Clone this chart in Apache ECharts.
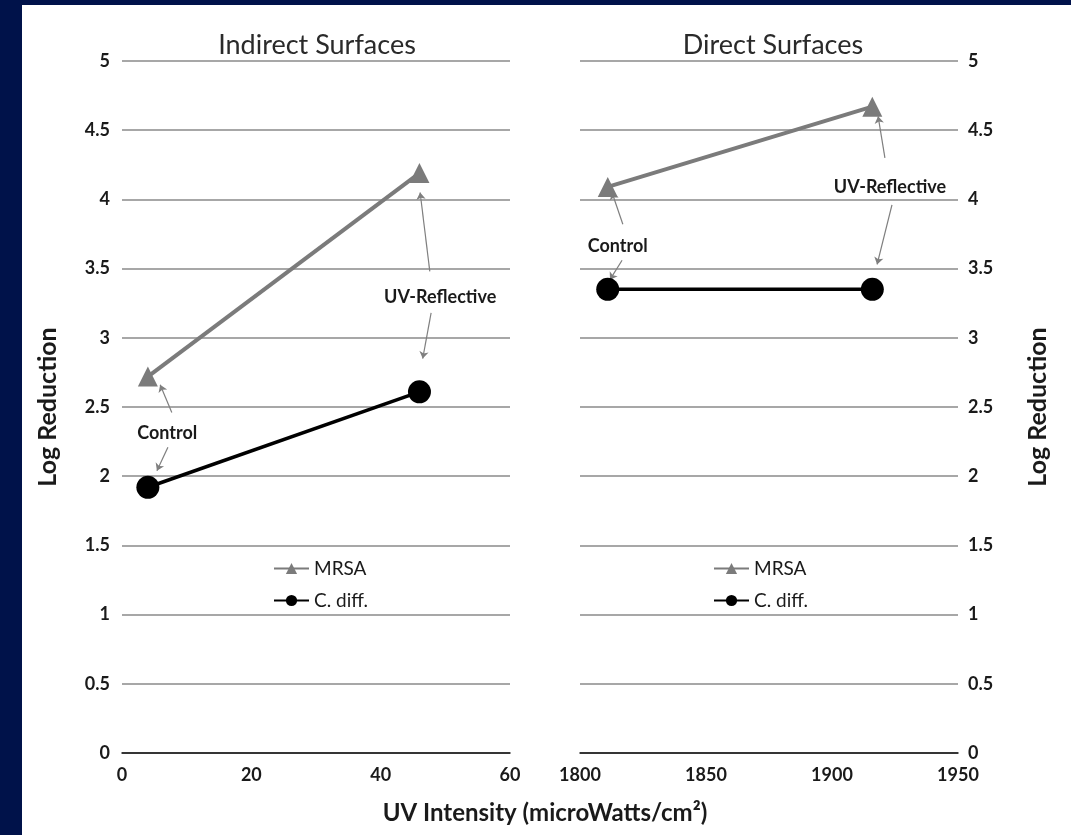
<!DOCTYPE html>
<html>
<head>
<meta charset="utf-8">
<script src="https://cdn.jsdelivr.net/npm/echarts@6/dist/echarts.min.js"></script>
<style>
html,body{margin:0;padding:0;background:#00124a;}
#wrap{position:absolute;left:0;top:0;width:1071px;height:835px;background:#00124a;}
#c{position:absolute;left:22px;top:5px;width:1049px;height:830px;background:#fff;}
</style>
</head>
<body>
<div id="wrap"><div id="c"></div></div>
<script>
// ---- data ----
const seriesNames = ['MRSA', 'C. diff.'];
const panelTitles = ['Indirect Surfaces', 'Direct Surfaces'];
const xTitle = 'UV Intensity (microWatts/cm\u00B2)';
const yTitle = 'Log Reduction';

const indirectX = [4, 46];
const indirectMRSA = [2.72, 4.19];
const indirectCdiff = [1.92, 2.61];

const directX = [1811, 1916];
const directMRSA = [4.09, 4.67];
const directCdiff = [3.35, 3.35];

// annotation labels [x, y, text]
const indirectNotes = [[7.0, 2.31, 'Control'], [49.2, 3.29, 'UV-Reflective']];
const directNotes = [[1815, 3.66, 'Control'], [1923, 4.09, 'UV-Reflective']];
// annotation arrows [[x0,y0],[x1,y1]]
const indirectArrows = [
  [[7.7, 2.46], [5.9, 2.66]],
  [[7.1, 2.21], [5.4, 2.04]],
  [[47.6, 3.48], [46.1, 4.05]],
  [[47.8, 3.18], [46.5, 2.85]]
];
const directArrows = [
  [[1921, 4.30], [1918.3, 4.60]],
  [[1923.8, 3.96], [1917.9, 3.53]],
  [[1817, 3.82], [1812.7, 4.05]],
  [[1816.7, 3.56], [1811.9, 3.42]]
];

// ---- chart ----
const FONT = 'Lato, "Open Sans", sans-serif';
const chart = echarts.init(document.getElementById('c'));
const OX = 22, OY = 5; // container offset
const grids = [
  {left: 122 - OX, top: 61 - OY, width: 388, height: 692},
  {left: 580 - OX, top: 61 - OY, width: 378, height: 692}
];
const axisLabelStyle = {fontFamily: FONT, fontWeight: 'bold', fontSize: 18, color: '#1a1a1a'};
const mrsaColor = '#7b7b7b';

function lineSeries(name, xs, ys, idx) {
  const isM = name === 'MRSA';
  return {
    name: name, type: 'line', xAxisIndex: idx, yAxisIndex: idx,
    data: xs.map((x, i) => [x, ys[i]]),
    symbol: isM ? 'triangle' : 'circle',
    symbolSize: isM ? 20 : 23,
    itemStyle: {color: isM ? mrsaColor : '#000'},
    lineStyle: {color: isM ? mrsaColor : '#000', width: isM ? 4 : 3.5},
    z: isM ? 3 : 4,
    animation: false
  };
}
function noteSeries(notes, idx) {
  return {
    type: 'custom', xAxisIndex: idx, yAxisIndex: idx, silent: true, z: 6,
    data: notes.map(n => [n[0], n[1]]),
    renderItem: function (params, api) {
      const p = api.coord([api.value(0), api.value(1)]);
      return {
        type: 'text', x: p[0], y: p[1],
        style: {text: notes[params.dataIndex][2], fill: '#1a1a1a', align: 'center', verticalAlign: 'middle',
          font: 'bold 18px ' + FONT}
      };
    },
    animation: false
  };
}
function arrowSeries(arrows, idx) {
  return {
    type: 'lines', coordinateSystem: 'cartesian2d', xAxisIndex: idx, yAxisIndex: idx, silent: true,
    symbol: ['none', 'arrow'], symbolSize: 7,
    lineStyle: {color: '#7f7f7f', width: 1.2, opacity: 1},
    data: arrows.map(a => ({coords: a})),
    animation: false
  };
}

const legendCommon = {data: seriesNames, orient: 'vertical', top: 559 - OY, itemWidth: 35, itemHeight: 14, itemGap: 13,
  textStyle: {fontFamily: FONT, fontSize: 19, color: '#1a1a1a'}, backgroundColor: '#fff', padding: [0, 6, 0, 0]};

const option = {
  backgroundColor: '#fff',
  animation: false,
  title: [
    {text: panelTitles[0], left: 312 - OX, top: 40 - OY, textAlign: 'center', textVerticalAlign: 'middle',
      textStyle: {fontFamily: FONT, fontWeight: 'normal', fontSize: 27, color: '#2a2a2a'}},
    {text: panelTitles[1], left: 768 - OX, top: 40 - OY, textAlign: 'center', textVerticalAlign: 'middle',
      textStyle: {fontFamily: FONT, fontWeight: 'normal', fontSize: 27, color: '#2a2a2a'}},
    {text: xTitle, left: 540 - OX, top: 808 - OY, textAlign: 'center', textVerticalAlign: 'middle',
      textStyle: {fontFamily: FONT, fontWeight: 'bold', fontSize: 24, color: '#1a1a1a'}}
  ],
  legend: [
    Object.assign({left: 273 - OX}, legendCommon),
    Object.assign({left: 713 - OX}, legendCommon)
  ],
  grid: grids,
  xAxis: [
    {type: 'value', gridIndex: 0, min: 0, max: 60, interval: 20,
      axisLine: {show: true, onZero: false, lineStyle: {color: '#111', width: 1.5}},
      axisTick: {show: false}, splitLine: {show: false},
      axisLabel: Object.assign({margin: 13, formatter: v => String(v)}, axisLabelStyle)},
    {type: 'value', gridIndex: 1, min: 1800, max: 1950, interval: 50,
      axisLine: {show: true, onZero: false, lineStyle: {color: '#111', width: 1.5}},
      axisTick: {show: false}, splitLine: {show: false},
      axisLabel: Object.assign({margin: 13, formatter: v => String(v)}, axisLabelStyle)}
  ],
  yAxis: [
    {type: 'value', gridIndex: 0, min: 0, max: 5, interval: 0.5, position: 'left',
      name: yTitle, nameLocation: 'middle', nameRotate: 90, nameGap: 62,
      nameTextStyle: {fontFamily: FONT, fontWeight: 'bold', fontSize: 25, color: '#1a1a1a'},
      axisLine: {show: false}, axisTick: {show: false},
      splitLine: {show: true, lineStyle: {color: '#8a8a8a', width: 1.5}},
      axisLabel: Object.assign({margin: 12}, axisLabelStyle)},
    {type: 'value', gridIndex: 1, min: 0, max: 5, interval: 0.5, position: 'right',
      name: yTitle, nameLocation: 'middle', nameRotate: 90, nameGap: 67,
      nameTextStyle: {fontFamily: FONT, fontWeight: 'bold', fontSize: 25, color: '#1a1a1a'},
      axisLine: {show: false}, axisTick: {show: false},
      splitLine: {show: true, lineStyle: {color: '#8a8a8a', width: 1.5}},
      axisLabel: Object.assign({margin: 10}, axisLabelStyle)}
  ],
  series: [
    lineSeries('MRSA', indirectX, indirectMRSA, 0),
    lineSeries('C. diff.', indirectX, indirectCdiff, 0),
    lineSeries('MRSA', directX, directMRSA, 1),
    lineSeries('C. diff.', directX, directCdiff, 1),
    arrowSeries(indirectArrows, 0),
    arrowSeries(directArrows, 1),
    noteSeries(indirectNotes, 0),
    noteSeries(directNotes, 1)
  ]
};
chart.setOption(option);
</script>
</body>
</html>
